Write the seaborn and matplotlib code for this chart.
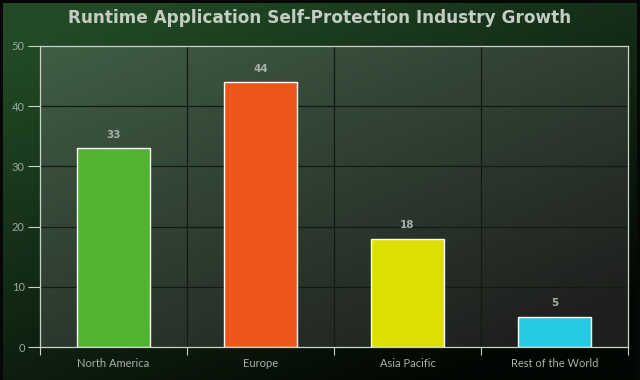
import numpy as np
import matplotlib
matplotlib.use("Agg")
import matplotlib.pyplot as plt
import seaborn as sns

regions = ["North America", "Europe", "Asia Pacific", "Rest of the World"]
growth = [33, 44, 18, 5]
bar_colors = ["#50B432", "#ED561B", "#DDDF00", "#24CBE5"]
y_ticks = [0, 10, 20, 30, 40, 50]

sns.set_theme(style="dark")
plt.rcParams["font.family"] = ["DejaVu Sans"]

fig = plt.figure(figsize=(6.4, 3.8), dpi=100)
fig.patch.set_facecolor("#050805")

# figure background: dark green top-left fading to black bottom-right
bg = fig.add_axes([3 / 640, 0, 634 / 640, 377 / 380], zorder=-10)
yy, xx = np.mgrid[0:1:200j, 0:1:300j]
t = np.clip(0.5 * xx + 0.75 * yy - 0.1, 0, 1)
top = np.array([0x22, 0x4a, 0x26]) / 255
bot = np.array([0x02, 0x06, 0x02]) / 255
img = top[None, None, :] * (1 - t[..., None]) + bot[None, None, :] * t[..., None]
bg.imshow(img, aspect="auto", extent=[0, 1, 0, 1], origin="upper")
bg.set_axis_off()

ax = fig.add_axes([40 / 640, 33 / 380, 588 / 640, 301 / 380])
ax.set_facecolor("none")

# plot area gradient
t2 = np.clip(0.5 * xx + 0.6 * yy, 0, 1)
ptop = np.array([0x40, 0x5e, 0x44]) / 255
pbot = np.array([0x1e, 0x1f, 0x1e]) / 255
pimg = ptop[None, None, :] * (1 - t2[..., None]) + pbot[None, None, :] * t2[..., None]
ax.imshow(pimg, aspect="auto", extent=[0, 1, 0, 1], origin="upper",
          transform=ax.transAxes, zorder=0)

sns.barplot(x=regions, y=growth, hue=regions, palette=bar_colors, legend=False,
            width=0.49, edgecolor="white", linewidth=1.0, saturation=1, ax=ax, zorder=3)

ax.set_xlim(-0.5, len(regions) - 0.5)
ax.set_ylim(0, 50)
ax.set_yticks(y_ticks)
ax.set_yticklabels([str(v) for v in y_ticks], color="#9aa89a", fontsize=8, family="Lato")

# horizontal grid lines
for v in y_ticks[1:-1]:
    ax.axhline(v, color="#131a13", linewidth=0.9, zorder=1)
# category separators
for b in np.arange(0.5, len(regions) - 1, 1):
    ax.axvline(b, color="#131a13", linewidth=0.9, zorder=1)

ax.set_xticks(range(len(regions)))
ax.set_xticklabels(regions, color="#a8b0a8", fontsize=8, family="Lato")
ax.tick_params(axis="x", length=0, pad=8)
ax.tick_params(axis="y", length=9, color="#c8d4c8", width=0.8, pad=2, left=True)
ax.set_xticks(np.arange(-0.5, len(regions), 1), minor=True)
ax.tick_params(axis="x", which="minor", length=6, color="#c8d4c8", width=0.8, bottom=True)

for s in ["left", "bottom", "top", "right"]:
    ax.spines[s].set_visible(True)
    ax.spines[s].set_color("#c8d4c8")
    ax.spines[s].set_linewidth(0.9)
    ax.spines[s].set_zorder(5)

for i, v in enumerate(growth):
    ax.text(i, v + 1.4, str(v), ha="center", va="bottom", color="#a8b0a8",
            fontsize=7.5, fontweight="bold", zorder=6)

ax.set_xlabel("")
ax.set_ylabel("")
fig.text(0.5, 0.953, "Runtime Application Self-Protection Industry Growth",
         ha="center", va="center", color="#c4ccc4", fontsize=12.2, fontweight="bold")

fig.savefig("out.png", dpi=100, facecolor=fig.get_facecolor())
